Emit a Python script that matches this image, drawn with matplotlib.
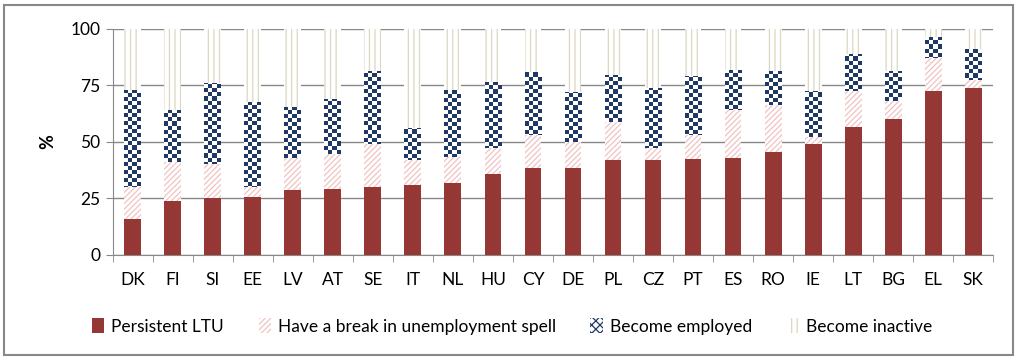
import matplotlib.pyplot as plt
import numpy as np
from matplotlib.patches import Rectangle
from matplotlib.colors import ListedColormap

plt.rcParams['font.family'] = ['Lato', 'DejaVu Sans']

countries = ['DK', 'FI', 'SI', 'EE', 'LV', 'AT', 'SE', 'IT', 'NL', 'HU', 'CY',
             'DE', 'PL', 'CZ', 'PT', 'ES', 'RO', 'IE', 'LT', 'BG', 'EL', 'SK']
persistent = [16, 24, 25, 25.5, 28.5, 29, 30, 31, 32, 36, 38.5,
              38.5, 42, 42, 42.5, 43, 45.5, 49, 56.5, 60, 72.5, 74]
brk = [14, 17, 15, 4.5, 14.5, 15.5, 19, 11, 11.5, 11.5, 14.5,
       11.5, 17, 5.5, 10.5, 21, 21, 3, 16, 8, 14.5, 3.5]
employed = [43, 23, 36, 37.5, 22.5, 24.5, 32.5, 14, 29.5, 29, 28,
            22, 20.5, 26.5, 26, 18, 15, 20.5, 16.5, 13.5, 9.5, 13.5]
inactive = [100 - a - b - c for a, b, c in zip(persistent, brk, employed)]

labels = ['Persistent LTU', 'Have a break in unemployment spell',
          'Become employed', 'Become inactive']

fig = plt.figure(figsize=(10.24, 3.62), dpi=100)
ax = fig.add_axes([0.110, 0.296, 0.860, 0.624])

x = np.arange(len(countries))
w = 0.42
n = len(countries)

ax.bar(x, persistent, w, color='#953735', zorder=3, label=labels[0])
b1 = np.array(persistent)
plt.rcParams['hatch.linewidth'] = 0.9
ax.bar(x, brk, w, bottom=b1, facecolor='white', edgecolor='#f2c2c2',
       hatch='//////', linewidth=0, zorder=3, label=labels[1])
b2 = b1 + np.array(brk)
plt.rcParams['hatch.linewidth'] = 2.0
emp = ax.bar(x, employed, w, bottom=b2, facecolor='white', edgecolor='#1f3864',
             hatch='xxxx', linewidth=0, zorder=3, label=labels[2])
b3 = b2 + np.array(employed)
plt.rcParams['hatch.linewidth'] = 0.9
ax.bar(x, inactive, w, bottom=b3, facecolor='white', edgecolor='#dcd7c0',
       hatch='|||', linewidth=0, zorder=3, label=labels[3])

# checkerboard texture for the "Become employed" segments
cols, rows = 880 // 4, 226 // 4
yy, xx = np.mgrid[0:rows, 0:cols]
checker = ((xx + yy) % 2).astype(float)
cmap = ListedColormap(['white', '#1f3864'])
for r in emp:
    im = ax.imshow(checker, cmap=cmap, extent=(-0.5, n - 0.5, 0, 100),
                   aspect='auto', interpolation='nearest', zorder=4, origin='lower')
    im.set_clip_path(r)

ax.set_xlim(-0.5, n - 0.5)
ax.set_ylim(0, 100)
ax.set_yticks([0, 25, 50, 75, 100])
ax.set_xticks(x)
ax.set_xticklabels(countries)
ax.set_xticks(np.arange(-0.5, n, 1), minor=True)
ax.tick_params(axis='x', which='major', length=0, pad=12, labelsize=12.5)
ax.tick_params(axis='x', which='minor', length=5, color='#888888')
ax.tick_params(axis='y', length=5, color='#888888', labelsize=12.5, pad=4)
ax.yaxis.grid(True, color='#888888', linewidth=1, zorder=0)
for s in ['top', 'right']:
    ax.spines[s].set_visible(False)
for s in ['left', 'bottom']:
    ax.spines[s].set_color('#888888')
ax.set_ylabel('%', fontsize=13, fontweight='bold', labelpad=10)

ax.legend(loc='center', bbox_to_anchor=(0.5, 0.098), bbox_transform=fig.transFigure,
          ncol=4, frameon=False, fontsize=12.5, handlelength=0.7, handleheight=0.9,
          handletextpad=0.4, columnspacing=2.0)

fig.patches.append(Rectangle((0.004, 0.02), 0.985, 0.965, transform=fig.transFigure,
                             fill=False, edgecolor='#888888', linewidth=1.5))

fig.savefig('out.png', dpi=100)
